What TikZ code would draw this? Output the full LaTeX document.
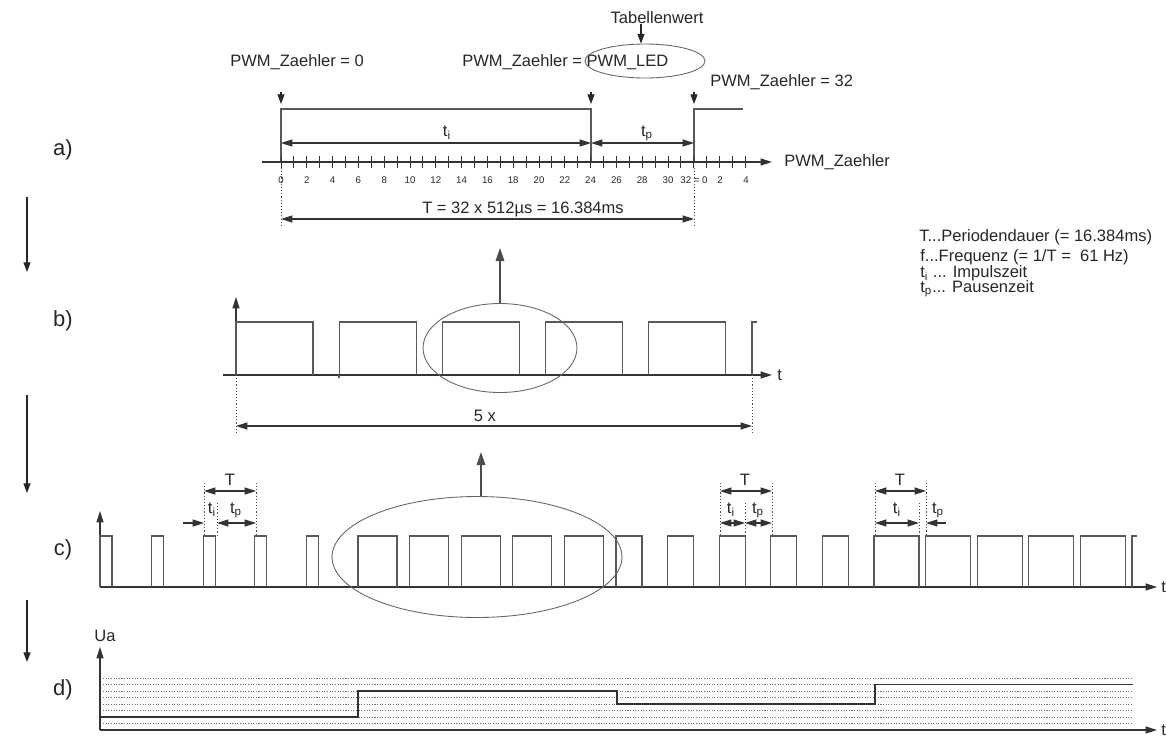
\documentclass[tikz,border=0pt]{standalone}
\usepackage{fontspec}
\setmainfont{Liberation Sans}
\usetikzlibrary{arrows.meta,shapes.geometric}
\begin{document}
\begin{tikzpicture}[x=0.02cm,y=-0.02cm,
  tipA/.tip={Triangle[length=6.5pt,width=4pt]},
  wave/.style={draw=black!65,line width=0.6pt},
  axisline/.style={draw=black!80,line width=0.6pt,-tipA},
  dimline/.style={draw=black!80,line width=0.6pt,tipA-tipA},
  onearr/.style={draw=black!80,line width=0.6pt,-tipA},
  smallarr/.style={draw=black!85,line width=0.6pt,-{Triangle[length=5.5pt,width=4pt]}},
  bigarr/.style={draw=black!70,line width=0.7pt,-{Triangle[length=7.5pt,width=5pt]}},
  guide/.style={draw=black!70,line width=0.5pt,dash pattern=on 0.6pt off 1.2pt},
  grid line/.style={draw=black!55,line width=0.45pt,dash pattern=on 0.6pt off 0.9pt},
  level/.style={draw=black!80,line width=0.8pt},
  oval/.style={ellipse,draw=black!60,line width=0.5pt,inner sep=0pt},
  lbl/.style={font=\fontsize{9.4}{11}\selectfont,text=black!85,inner sep=0pt},
  ticklbl/.style={font=\fontsize{5.5}{6}\selectfont,text=black!85,inner sep=0pt},
  partlbl/.style={font=\fontsize{12.5}{14}\selectfont,text=black!85,inner sep=0pt}]
\useasboundingbox (0,0) rectangle (1166,738);

% ---------- part labels and left arrows ----------
\node[partlbl] (pa) at (63,150) {a)};
\node[partlbl] (pb) at (63,321) {b)};
\node[partlbl] (pc) at (63,550) {c)};
\node[partlbl] (pd) at (63,690) {d)};
\coordinate (l1s) at (27,197); \coordinate (l1e) at (27,272);
\coordinate (l2s) at (27,395); \coordinate (l2e) at (27,493);
\coordinate (l3s) at (27,600); \coordinate (l3e) at (27,662);
\draw[smallarr] (l1s) -- (l1e);
\draw[smallarr] (l2s) -- (l2e);
\draw[smallarr] (l3s) -- (l3e);

% ---------- part a ----------
\node[lbl,anchor=west] (z0) at (230,62) {PWM\_Zaehler = 0};
\node[lbl,anchor=west] (zled) at (462,62) {PWM\_Zaehler = PWM\_LED};
\node[lbl,anchor=west] (z32) at (710,82) {PWM\_Zaehler = 32};
\node[lbl] (tab) at (657,18) {Tabellenwert};
\node[oval,minimum width=2.4cm,minimum height=0.68cm] (e1) at (645,61) {};
\coordinate (tabx) at (641,0);
\draw[smallarr] (tab.south -| tabx) -- (e1.north -| tabx);

\coordinate (a0s) at (281,92); \coordinate (a0e) at (281,104);
\coordinate (a1s) at (591,92); \coordinate (a1e) at (591,104);
\coordinate (a2s) at (694,92); \coordinate (a2e) at (694,104);
\draw[smallarr] (a0s) -- (a0e);
\draw[smallarr] (a1s) -- (a1e);
\draw[smallarr] (a2s) -- (a2e);

\draw[wave] (281,162) -- (281,109) -- (591,109) -- (591,162);
\draw[wave] (694,162) -- (694,109) -- (743,109);

\coordinate (ti0) at (281,143); \coordinate (ti1) at (591,143); \coordinate (tp1) at (694,143);
\draw[dimline] (ti0) -- (ti1);
\draw[dimline] (ti1) -- (tp1);
\node[lbl] (ati) at (447,133) {t\textsubscript{i}};
\node[lbl] (atp) at (647,133) {t\textsubscript{p}};

\coordinate (ax0) at (262,162); \coordinate (ax1) at (772,162);
\draw[axisline] (ax0) -- (ax1);
\node[lbl,anchor=west] (axl) at (784,162) {PWM\_Zaehler};
\foreach \k in {0,...,36} \draw[draw=black!80,line width=0.5pt] ({281+\k*12.9},156) -- ({281+\k*12.9},168);
\foreach \k in {0,2,...,30} \node[ticklbl] at ({281+\k*12.9},180) {\k};
\node[ticklbl] (t32) at (694,180) {32 = 0};
\node[ticklbl] (t2) at (720,180) {2};
\node[ticklbl] (t4) at (746,180) {4};

\draw[guide] (281,168) -- (281,225);
\draw[guide] (694,168) -- (694,225);
\coordinate (T0) at (281,219); \coordinate (T1) at (694,219);
\draw[dimline] (T0) -- (T1);
\node[lbl] (Tlbl) at (523,209) {T = 32 x 512µs = 16.384ms};

% ---------- legend ----------
\node[lbl,anchor=west] (lg1) at (919,237) {T...Periodendauer (= 16.384ms)};
\node[lbl,anchor=west] (lg2) at (920,257) {f...Frequenz (= 1/T =\ \ 61 Hz)};
\node[lbl,anchor=west] (lg3) at (920,273) {t\textsubscript{i} ... Impulszeit};
\node[lbl,anchor=west] (lg4) at (920,289) {t\textsubscript{p}... Pausenzeit};

% ---------- part b ----------
\draw[axisline] (236,375) -- (236,297);
\draw[axisline] (223,375) -- (772,375);
\node[lbl,anchor=west] (bt) at (777,375) {t};
\foreach \k in {0,...,4} \draw[wave] ({236+103.2*\k},375) -- ++(0,-53) -- ++(77,0) -- ++(0,53);
\draw[wave] (339,378) -- (339,375);
\draw[wave] (752,375) -- (752,322) -- (757,322);
\node[oval,minimum width=3.08cm,minimum height=1.78cm] (e2) at (500,348) {};
\coordinate (up2) at (500,248);
\draw[bigarr] (e2.north) -- (up2);
\draw[guide] (236,375) -- (236,432);
\draw[guide] (752,375) -- (752,432);
\coordinate (f0) at (236,426); \coordinate (f1) at (752,426);
\draw[dimline] (f0) -- (f1);
\node[lbl] (fx) at (485,416) {5 x};

% ---------- part c ----------
\draw[axisline] (100,587) -- (100,511);
\draw[axisline] (100,587) -- (1157,587);
\node[lbl,anchor=west] (ct) at (1161,587) {t};
\foreach \g/\w in {0/12,1/39,2/26,3/45} {
  \foreach \j in {0,...,4} {
    \pgfmathsetmacro\s{100+51.6*(5*\g+\j)}
    \draw[wave] (\s,587) -- (\s,536) -- (\s+\w,536) -- (\s+\w,587);
  }
}
\draw[wave] (1132,587) -- (1132,536) -- (1137,536);
\node[oval,minimum width=5.8cm,minimum height=2.42cm] (e3) at (477,557) {};
\coordinate (up3) at (481,452);
\draw[bigarr] (e3.north -| up3) -- (up3);

% group 1 annotation
\draw[guide] (204,483) -- (204,536);
\draw[guide] (217,503) -- (217,536);
\draw[guide] (256,483) -- (256,536);
\coordinate (g1a) at (204,491); \coordinate (g1b) at (256,491);
\draw[dimline] (g1a) -- (g1b);
\node[lbl] (g1T) at (230,480) {T};
\coordinate (g1i0) at (183,523); \coordinate (g1i1) at (204,523);
\coordinate (g1p0) at (217,523); \coordinate (g1p1) at (256,523);
\draw[onearr] (g1i0) -- (g1i1);
\draw[dimline] (g1p0) -- (g1p1);
\node[lbl] (g1ti) at (212,510) {t\textsubscript{i}};
\node[lbl] (g1tp) at (236,510) {t\textsubscript{p}};

% group 3 annotation
\draw[guide] (720,483) -- (720,536);
\draw[guide] (745,503) -- (745,536);
\draw[guide] (772,483) -- (772,536);
\coordinate (g3a) at (720,491); \coordinate (g3b) at (772,491);
\draw[dimline] (g3a) -- (g3b);
\node[lbl] (g3T) at (745,480) {T};
\coordinate (g3i0) at (720,523); \coordinate (g3i1) at (745,523); \coordinate (g3p1) at (772,523);
\draw[dimline] (g3i0) -- (g3i1);
\draw[dimline] (g3i1) -- (g3p1);
\node[lbl] (g3ti) at (731,510) {t\textsubscript{i}};
\node[lbl] (g3tp) at (758,510) {t\textsubscript{p}};

% group 4 annotation
\draw[guide] (875,483) -- (875,536);
\draw[guide] (919,503) -- (919,536);
\draw[guide] (926,483) -- (926,536);
\coordinate (g4a) at (875,491); \coordinate (g4b) at (926,491);
\draw[dimline] (g4a) -- (g4b);
\node[lbl] (g4T) at (900,480) {T};
\coordinate (g4i0) at (875,523); \coordinate (g4i1) at (919,523);
\coordinate (g4p0) at (946,523); \coordinate (g4p1) at (926,523);
\draw[dimline] (g4i0) -- (g4i1);
\draw[onearr] (g4p0) -- (g4p1);
\node[lbl] (g4ti) at (897,510) {t\textsubscript{i}};
\node[lbl] (g4tp) at (938,510) {t\textsubscript{p}};

% ---------- part d ----------
\node[lbl] (ua) at (105,636) {Ua};
\foreach \k in {1,...,8} \draw[grid line] (103,{730-6.5*\k}) -- (1133,{730-6.5*\k});
\draw[axisline] (100,730) -- (100,647);
\draw[axisline] (100,730) -- (1157,730);
\node[lbl,anchor=west] (dt) at (1161,730) {t};
\draw[level] (100,717) -- (358,717) -- (358,691) -- (617,691) -- (617,704) -- (875,704) -- (875,684.5) -- (1133,684.5);
\end{tikzpicture}
\end{document}
